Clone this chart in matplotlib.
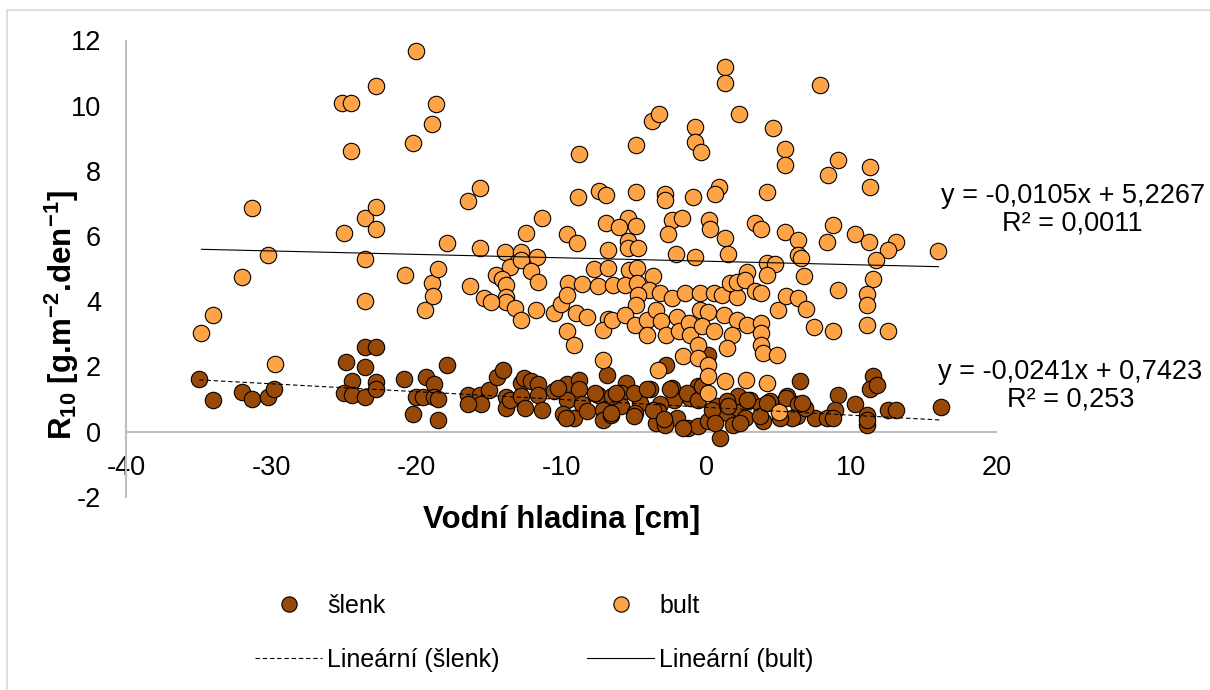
import numpy as np
import matplotlib
matplotlib.use('Agg')
import matplotlib.pyplot as plt
from matplotlib.lines import Line2D
from matplotlib.patches import Rectangle

plt.rcParams['font.family'] = ['Liberation Sans', 'DejaVu Sans']
plt.rcParams['mathtext.fontset'] = 'custom'
plt.rcParams['mathtext.rm'] = 'Liberation Sans'
plt.rcParams['mathtext.bf'] = 'Liberation Sans:bold'
plt.rcParams['mathtext.it'] = 'Liberation Sans:italic'
plt.rcParams['axes.unicode_minus'] = False

# DATA
slenk_x = [-34.95, -34.0, -32.0, -31.3, -30.2, -29.8,
           -23.5, -22.8, -24.85, -23.5, -24.4, -22.8, -25.0, -24.4, -23.5, -22.8, -20.85, -20.2, -20.0, -19.5, -19.3,
           -17.9, -18.8, -18.8, -18.5, -18.5, -16.4, -15.6, -15.0, -15.5, -16.4, -14.45, -14.0, -13.8, -13.8, -13.5,
           -12.8, -12.6, -12.1, -11.6, -12.75, -12.5, -11.6, -11.3, -10.5, -9.6, -8.8, -8.8, -9.6, -9.9, -9.15, -9.7,
           -8.55, -8.2, -7.45, -7.7, -7.1, -7.1, -6.85, -6.6,
           -2.75, 0.13, -5.55, -5.9, -3.85, -2.35, -0.55, -1.1, -2.25, -3.2, -4.6, -5.85, -6.55, -4.9, -3.3, -2.05,
           -1.25, -0.55, 0.12, 0.95, 0.72, 1.4, 2.2, 3.0, 3.8, 4.4, 2.65, 3.9, 1.85, -1.35, -3.45, -2.85, 2.2, 1.4,
           -0.55, 0.37, -6.5,
           -10.2, -6.2, -5.0, -4.1, -5.0, -3.65, -2.95, -2.5, -1.6, -0.3, 0.6, 1.5, 2.35, 2.8, 3.7, 4.2, 5.55, 6.25,
           6.45, 11.5, 11.3, 11.75, 9.1, 10.25, 12.5, 13.1, 16.2, 11.1, 11.1, 11.1, 8.85, 7.5, 8.3, 5.5, 6.3, 6.8,
           5.9, 5.05, 6.6, 8.75]
slenk_y = [1.62, 0.98, 1.22, 1.01, 1.05, 1.29,
           2.6, 2.6, 2.14, 1.99, 1.54, 1.51, 1.19, 1.11, 1.05, 1.32, 1.62, 0.55, 1.05, 1.05, 1.68,
           2.03, 1.47, 1.05, 1.0, 0.35, 1.13, 1.11, 1.26, 0.85, 0.85, 1.67, 1.88, 1.05, 0.73, 0.96,
           1.49, 1.64, 1.54, 1.47, 1.1, 0.73, 1.13, 0.67, 1.23, 1.47, 1.59, 1.31, 0.98, 0.54, 0.42, 0.42,
           0.83, 0.62, 1.13, 1.18, 0.67, 0.35, 1.75, 0.52,
           2.05, 2.36, 1.49, 1.18, 1.29, 1.34, 1.39, 1.03, 0.98, 0.83, 0.88, 0.78, 0.57, 0.57, 0.62, 0.42,
           0.11, 0.16, 0.32, -0.19, 0.78, 0.57, 0.73, 0.98, 0.78, 0.93, 0.42, 0.32, 0.21, 1.18, 0.27, 0.21, 1.08, 0.93,
           0.98, 0.67, 1.08,
           1.35, 1.18, 1.18, 1.29, 0.47, 0.67, 0.37, 1.29, 0.11, 1.39, 0.27, 0.78, 0.27, 0.98, 0.47, 0.88, 1.08, 0.47,
           1.56, 1.69, 1.29, 1.44, 1.11, 0.85, 0.67, 0.67, 0.76, 0.52, 0.21, 0.36, 0.67, 0.42, 0.42, 1.03, 0.83, 0.73,
           0.42, 0.42, 0.88, 0.42]

bult_x = [-34.8, -34.0, -32.0, -31.3, -30.2, -29.7,
          -25.1, -24.5, -24.5, -25.0, -23.5, -23.5, -23.5, -22.8, -22.8, -22.8, -20.8, -20.0, -20.2, -18.9,
          -18.6, -19.4, -18.9, -18.85, -18.5, -17.9,
          -8.8, -15.6, -16.4, -8.84, -7.4, -6.9, -11.3, -12.4, -9.6, -8.9, -6.95, -15.6, -13.9, -12.75, -11.7,
          -13.5, -12.75, -12.1, -11.6, -14.5, -14.1, -13.8, -13.8, -13.8, -13.2, -12.8, -11.75, -10.5, -10.0,
          -9.55, -9.6, -9.0, -8.2, -9.6, -9.1, -7.1, -8.55, -7.45, -7.75, -6.8, -6.8, -6.8, -7.1, -16.3, -15.35,
          -14.85,
          1.27, 1.27, -3.73, -3.25, 2.27, 4.57, 5.4, 5.4, -0.75, -0.75, -0.4, -4.85,
          -4.85, -2.85, -2.85, -0.95, 0.85, 0.6, 4.2, -5.4, -6.0, -4.85, -2.35, -1.65, -2.65, 0.2, 0.25, 3.35,
          3.8, 1.3, 5.4, -5.4, -5.4, -4.7, -2.1, -0.8, 1.48, 4.2,
          4.7, 4.2, 2.8, -5.35, -4.8, -6.45, -5.6, -4.8, -3.7, -3.95, -4.7, -3.2, -2.4, -1.45, -0.45, 0.5, 1.05,
          2.1, 1.6, 2.1, 2.65, 3.35, 3.8, 4.97, -4.85, -6.5, -5.6, -4.9, -4.1, -4.1, -3.45, -3.1, -2.8, -2.0,
          -1.9, -1.2, -1.1, -0.45, 0.12, -0.3, 0.5, 1.2, 2.1, 2.8, 1.75, 3.8, 3.8, 3.8, 3.9, 4.85, 1.4, -0.55,
          -1.6, -0.55, 0.12, 0.12, 0.12, -3.3, 1.3, 2.7, 4.15, 5.0,
          7.85, 9.1, 8.4, 11.3, 11.3, 6.3, 8.7, 8.3, 10.25, 11.2, 13.1, 12.5, 11.7, 16.0, 6.35, 6.55, 6.7, 9.1,
          11.5, 11.1, 11.1, 5.5, 6.3, 6.9, 7.45, 8.75, 11.1, 12.5]
bult_y = [3.03, 3.58, 4.75, 6.86, 5.42, 2.08,
          10.08, 10.08, 8.6, 6.1, 6.55, 5.3, 4.0, 10.6, 6.9, 6.2, 4.8, 11.67, 8.85, 9.43,
          10.05, 3.74, 4.56, 4.17, 5.0, 5.8,
          8.51, 7.47, 7.08, 7.21, 7.38, 7.26, 6.55, 6.09, 6.06, 5.8, 6.4, 5.63, 5.52, 5.5, 5.37,
          5.06, 5.27, 4.94, 4.58, 4.79, 4.68, 4.5, 4.14, 3.98, 3.79, 3.43, 3.72, 3.63, 3.92,
          4.57, 4.2, 3.65, 3.53, 3.07, 2.66, 2.2, 4.53, 4.47, 4.98, 5.01, 5.57, 3.46, 3.12, 4.47, 4.11,
          3.96,
          11.19, 10.71, 9.52, 9.74, 9.73, 9.3, 8.66, 8.18, 9.35, 8.87, 8.57, 8.79,
          7.34, 7.29, 7.1, 7.21, 7.51, 7.29, 7.36, 6.54, 6.29, 6.31, 6.49, 6.54, 6.05, 6.49, 6.21, 6.39,
          6.21, 5.93, 6.13, 5.86, 5.63, 5.63, 5.45, 5.37, 5.45, 5.18,
          5.15, 4.81, 4.91, 4.96, 5.01, 4.5, 4.5, 4.55, 4.76, 4.35, 4.2, 4.25, 4.09, 4.25, 4.25, 4.25, 4.2,
          4.14, 4.55, 4.6, 4.66, 4.3, 4.25, 3.74, 3.89, 3.43, 3.58, 3.28, 3.43, 2.97, 3.74, 3.38, 2.97, 3.53,
          3.07, 3.33, 2.97, 3.74, 3.68, 3.23, 3.07, 3.58, 3.43, 3.28, 2.97, 3.33, 3.02, 2.66, 2.41, 2.36, 2.56, 2.66,
          2.31, 2.26, 2.05, 1.69, 1.18, 1.9, 1.54, 1.57, 1.49, 0.6,
          10.63, 8.33, 7.87, 8.13, 7.51, 5.88, 6.34, 5.83, 6.06, 5.81, 5.81, 5.57, 5.27, 5.54, 5.42, 5.32, 4.78, 4.35,
          4.68, 4.22, 3.89, 4.17, 4.11, 3.77, 3.2, 3.09, 3.28, 3.1]

# trendline coefficients shown in the chart (slope, intercept, R2)
slenk_fit = (-0.0241, 0.7423, 0.253)
bult_fit = (-0.0105, 5.2267, 0.0011)

x_ticks = [-40, -30, -20, -10, 0, 10, 20]
y_ticks = [-2, 0, 2, 4, 6, 8, 10, 12]

c_slenk = '#984807'
c_bult = '#FFA347'

W, H = 1210, 690
fig = plt.figure(figsize=(W / 100, H / 100), dpi=100)
fig.add_artist(Rectangle((7 / W, -0.05), 1.2, 1 - 10 / H + 0.05, transform=fig.transFigure,
                         fill=False, edgecolor='#D9D9D9', linewidth=1.2))
ax = fig.add_axes([126 / W, 1 - 496.7 / H, (996.5 - 126) / W, (496.7 - 40.5) / H])

ax.scatter(slenk_x, slenk_y, s=140, c=c_slenk, edgecolors='black', linewidths=0.8, zorder=3, clip_on=False)
ax.scatter(bult_x, bult_y, s=140, c=c_bult, edgecolors='black', linewidths=0.8, zorder=3, clip_on=False)


def fmt(v):
    return str(v).replace('.', ',')


for xs, fit, ls in ((slenk_x, slenk_fit, (0, (4, 2.5))), (bult_x, bult_fit, '-')):
    xx = np.array([min(xs), max(xs)])
    ax.plot(xx, fit[0] * xx + fit[1], color='black', lw=0.8, ls=ls, zorder=4)

ax.text(25.25, 6.8, 'y = {}x + {}\nR² = {}'.format(fmt(bult_fit[0]), fmt(bult_fit[1]), fmt(bult_fit[2])),
        ha='center', va='center', fontsize=19.5, linespacing=1.1, clip_on=False)
ax.text(25.1, 1.41, 'y = {}x + {}\nR² = {}'.format(fmt(slenk_fit[0]), fmt(slenk_fit[1]), fmt(slenk_fit[2])),
        ha='center', va='center', fontsize=19.5, linespacing=1.1, clip_on=False)

ax.set_xlim(-40, 20)
ax.set_ylim(-2, 12)
ax.set_xticks(x_ticks)
ax.set_yticks(y_ticks)
ax.spines['top'].set_visible(False)
ax.spines['right'].set_visible(False)
ax.spines['bottom'].set_position(('data', 0))
for sp in ('left', 'bottom'):
    ax.spines[sp].set_color('#BFBFBF')
    ax.spines[sp].set_linewidth(1.5)
ax.tick_params(axis='both', length=0, labelsize=19.5)
ax.tick_params(axis='x', pad=17)
ax.tick_params(axis='y', pad=18)

ax.set_xlabel('Vodní hladina [cm]', fontsize=22.5, fontweight='bold')
ax.xaxis.set_label_coords(0.5, (496.7 - 520) / (496.7 - 40.5))
ax.xaxis.label.set_va('center')
ax.set_ylabel(r'$\mathbf{R_{10}}$ [g.m$^{\mathbf{-2}}$.den$^{\mathbf{-1}}$]', fontsize=22.5, fontweight='bold')
ax.yaxis.set_label_coords((62 - 126) / (996.5 - 126), (496.7 - 315) / (496.7 - 40.5))
ax.yaxis.label.set_va('center')

handles = [Line2D([], [], ls='none', marker='o', ms=11, mfc=c_slenk, mec='black', mew=0.8),
           Line2D([], [], color='black', lw=0.8, ls=(0, (4, 2.5))),
           Line2D([], [], ls='none', marker='o', ms=11, mfc=c_bult, mec='black', mew=0.8),
           Line2D([], [], color='black', lw=0.8)]
labels = ['šlenk', 'Lineární (šlenk)', 'bult', 'Lineární (bult)']
fig.legend(handles, labels, ncol=2, loc='upper left', bbox_to_anchor=(255 / W, 1 - 594 / H),
           frameon=False, fontsize=18, handlelength=2.68, handletextpad=0.2, columnspacing=3.5,
           labelspacing=1.2, borderpad=0, borderaxespad=0)

fig.savefig('out.png', dpi=100)
